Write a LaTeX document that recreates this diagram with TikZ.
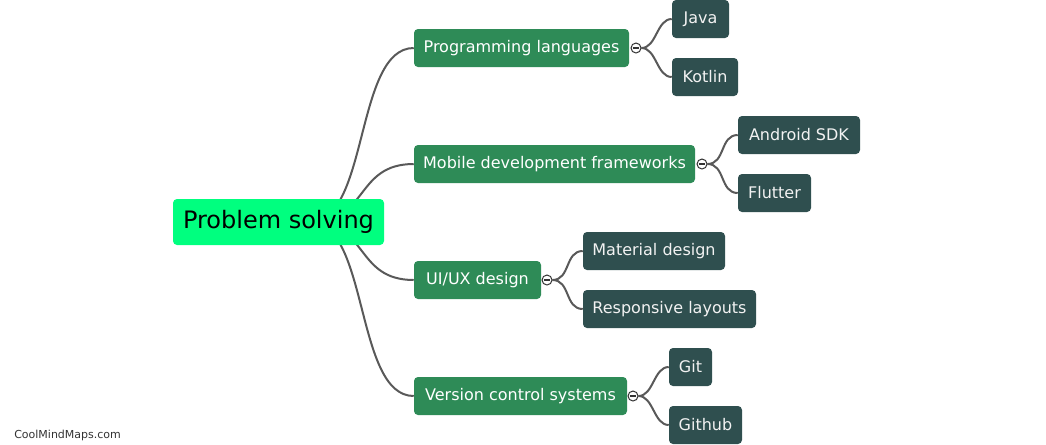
\documentclass[tikz,border=0pt]{standalone}
\usepackage{fontspec}
\setmainfont{DejaVu Sans}
\definecolor{rootc}{HTML}{00FF7F}
\definecolor{childc}{HTML}{2E8B57}
\definecolor{leafc}{HTML}{2F4F4F}
\definecolor{linec}{HTML}{595959}
\definecolor{markc}{HTML}{333333}
\pgfdeclarelayer{bg}
\pgfsetlayers{bg,main}
\tikzset{
  base/.style={rectangle, rounded corners=3pt, inner sep=0pt, minimum height=28.5pt, font=\fontsize{12pt}{14pt}\selectfont},
  rootbox/.style={base, fill=rootc, text=black, minimum height=34.5pt, font=\fontsize{18pt}{21pt}\selectfont},
  childbox/.style={base, fill=childc, text=white},
  leafbox/.style={base, fill=leafc, text=white!95!black},
  conn/.style={draw=linec, line width=1.5pt},
  toggle/.style={circle, draw=markc, fill=white, line width=0.75pt, minimum size=7.5pt, inner sep=0pt,
    path picture={\draw[markc, line width=0.9pt] ([xshift=-2.6pt]path picture bounding box.center) -- ([xshift=2.6pt]path picture bounding box.center);}},
}
\begin{document}
\begin{tikzpicture}[x=0.75pt, y=-0.75pt]
\useasboundingbox (0,0) rectangle (1046,444);
% nodes
\node[rootbox, minimum width=158.25pt] (root) at (278.5,222) {Problem solving};
\node[childbox, minimum width=161.25pt] (prog) at (521.5,48) {Programming languages};
\node[childbox, minimum width=210.75pt] (mob) at (554.5,164) {Mobile development frameworks};
\node[childbox, minimum width=95.25pt] (ui) at (477.5,280) {UI/UX design};
\node[childbox, minimum width=159.75pt] (vcs) at (520.5,396) {Version control systems};
\node[leafbox, minimum width=42.75pt] (java) at (700.5,19) {Java};
\node[leafbox, minimum width=49.5pt] (kotlin) at (705,77) {Kotlin};
\node[leafbox, minimum width=91.5pt] (android) at (799,135) {Android SDK};
\node[leafbox, minimum width=54.75pt] (flutter) at (774.5,193) {Flutter};
\node[leafbox, minimum width=106.5pt] (material) at (654,251) {Material design};
\node[leafbox, minimum width=129.75pt] (resp) at (669.5,309) {Responsive layouts};
\node[leafbox, minimum width=32.25pt] (git) at (690.5,367) {Git};
\node[leafbox, minimum width=54.75pt] (github) at (705.5,425) {Github};
\node[toggle] (t1) at (636,48) {};
\node[toggle] (t2) at (702,164) {};
\node[toggle] (t3) at (547,280) {};
\node[toggle] (t4) at (633,396) {};
\coordinate (rs) at (310,222);
\node[anchor=west, inner sep=0pt, text=markc, font=\fontsize{8.25pt}{10pt}\selectfont] (brand) at (14,435) {CoolMindMaps.com};
% connectors
\begin{pgfonlayer}{bg}
\foreach \c in {prog,mob,ui,vcs}
  \draw[conn] (rs) .. controls +(59,0) and +(-59,0) .. (\c.west);
\draw[conn] (t1.east) .. controls +(15,0) and +(-15,0) .. (java.west);
\draw[conn] (t1.east) .. controls +(15,0) and +(-15,0) .. (kotlin.west);
\draw[conn] (t2.east) .. controls +(18,0) and +(-18,0) .. (android.west);
\draw[conn] (t2.east) .. controls +(18,0) and +(-18,0) .. (flutter.west);
\draw[conn] (t3.east) .. controls +(18,0) and +(-18,0) .. (material.west);
\draw[conn] (t3.east) .. controls +(18,0) and +(-18,0) .. (resp.west);
\draw[conn] (t4.east) .. controls +(15,0) and +(-15,0) .. (git.west);
\draw[conn] (t4.east) .. controls +(15,0) and +(-15,0) .. (github.west);
\end{pgfonlayer}
\end{tikzpicture}
\end{document}
